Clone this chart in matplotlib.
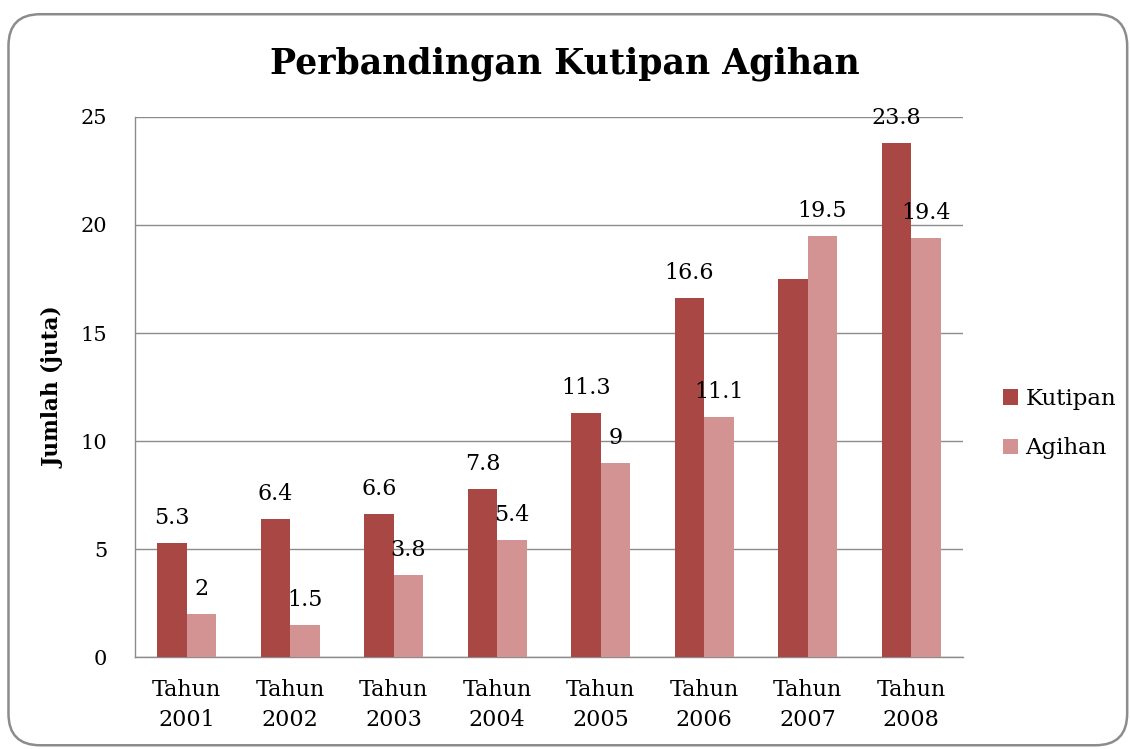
import matplotlib.pyplot as plt
import numpy as np
from matplotlib.patches import FancyBboxPatch

years = ["Tahun\n2001", "Tahun\n2002", "Tahun\n2003", "Tahun\n2004",
         "Tahun\n2005", "Tahun\n2006", "Tahun\n2007", "Tahun\n2008"]
kutipan = [5.3, 6.4, 6.6, 7.8, 11.3, 16.6, 17.5, 23.8]
agihan = [2, 1.5, 3.8, 5.4, 9, 11.1, 19.5, 19.4]
# 2007 Kutipan has no label in the original
kutipan_labels = ["5.3", "6.4", "6.6", "7.8", "11.3", "16.6", None, "23.8"]
agihan_labels = ["2", "1.5", "3.8", "5.4", "9", "11.1", "19.5", "19.4"]

plt.rcParams['font.family'] = ['DejaVu Serif']

fig = plt.figure(figsize=(11.3, 7.49), dpi=100)
ax = fig.add_axes([0.1195, 0.1228, 0.7327, 0.721])

# rounded chart border
border = FancyBboxPatch((0.0075, 0.005), 0.99, 0.976, boxstyle="round,pad=0,rounding_size=0.028",
                        transform=fig.transFigure, fill=False, ec="#8c8c8c", lw=1.8,
                        mutation_aspect=1130 / 749)
fig.patches.append(border)

x = np.arange(len(years))
w = 0.285
b1 = ax.bar(x - w / 2, kutipan, w, color="#a94744", label="Kutipan", zorder=3)
b2 = ax.bar(x + w / 2, agihan, w, color="#d39393", label="Agihan", zorder=3)

for bars, labels in [(b1, kutipan_labels), (b2, agihan_labels)]:
    for r, lab in zip(bars, labels):
        if lab is None:
            continue
        ax.annotate(lab, (r.get_x() + r.get_width() / 2, r.get_height()),
                    xytext=(0, 18), textcoords="offset points",
                    ha="center", va="center", fontsize=16, zorder=4)

ax.set_xlim(-0.5, len(years) - 0.5)
ax.set_ylim(0, 25)
ax.set_yticks([0, 5, 10, 15, 20, 25])
ax.set_xticks(x)
ax.set_xticklabels(years, fontsize=16, linespacing=1.45)
ax.tick_params(axis="y", labelsize=15, length=0, pad=20)
ax.tick_params(axis="x", length=0, pad=16)
ax.grid(axis="y", color="#8c8c8c", lw=1, zorder=0)
for s in ["top", "right"]:
    ax.spines[s].set_visible(False)
for s in ["left", "bottom"]:
    ax.spines[s].set_color("#8c8c8c")
    ax.spines[s].set_linewidth(1)

ax.set_ylabel("Jumlah (juta)", fontsize=15.5, fontweight="bold")
ax.yaxis.set_label_coords(-0.085, 0.5)
fig.text(0.5, 0.915, "Perbandingan Kutipan Agihan", ha="center", va="center",
         fontsize=25, fontweight="bold")

ax.legend(loc="center left", bbox_to_anchor=(1.024, 0.432), frameon=False,
          fontsize=16.5, handlelength=0.65, handleheight=0.65, handletextpad=0.3,
          labelspacing=1.2)

fig.savefig("out.png", dpi=100)
